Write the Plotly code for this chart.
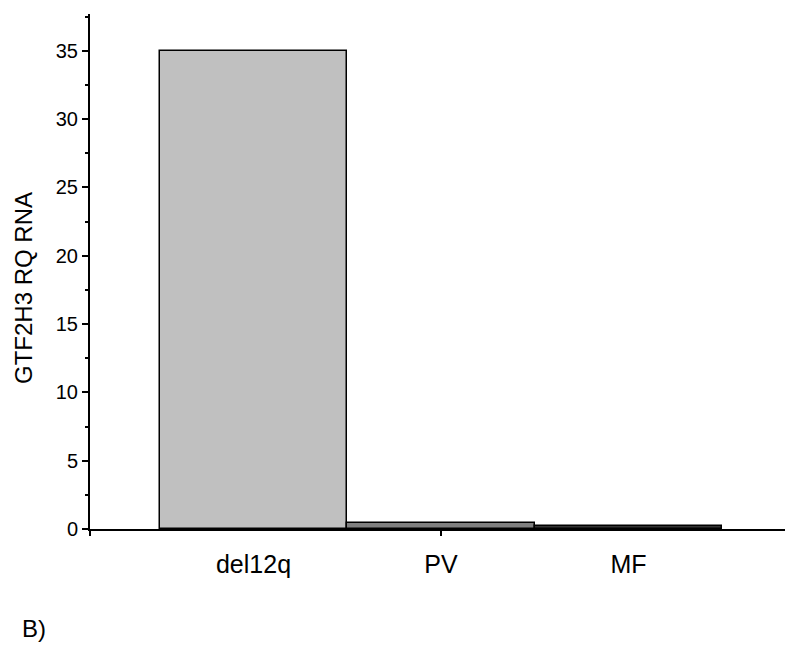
import plotly.graph_objects as go

# Relative quantification of GTF2H3 RNA by group
categories = ["del12q", "PV", "MF"]
rq_values = [35.0, 0.45, 0.25]
bar_colors = ["#c0c0c0", "#808080", "#333333"]
y_tick_values = [0, 5, 10, 15, 20, 25, 30, 35]

x_positions = list(range(len(categories)))
x_range = [-0.872, 2.835]

# plot-area geometry in pixels
W, H = 785, 646
L, R, T, B = 90, 0, 14, 117
PW, PH = W - L - R, H - T - B


def px_to_paper(px, py):
    return (px - L) / PW, (H - B - py) / PH


fig = go.Figure()
fig.add_trace(go.Bar(
    x=x_positions,
    y=rq_values,
    width=1.0,
    marker=dict(color=bar_colors, line=dict(color="#000000", width=1.5)),
    showlegend=False,
))
# invisible trace so the overlay axis (single tick mark) is rendered
fig.add_trace(go.Scatter(x=[x_range[0]], y=[0], xaxis="x2", mode="markers",
                         marker=dict(opacity=0), showlegend=False, hoverinfo="skip"))

title_x, title_y = px_to_paper(23, 288)
panel_x, panel_y = px_to_paper(20, 628)

font_family = "Liberation Sans, Arial, sans-serif"
fig.update_layout(
    width=W, height=H,
    margin=dict(l=L, r=R, t=T, b=B),
    plot_bgcolor="white", paper_bgcolor="white",
    font=dict(family=font_family, size=20, color="#000000"),
    bargap=0,
    xaxis=dict(
        range=x_range,
        tickvals=x_positions,
        ticktext=categories,
        ticks="outside", ticklen=12, tickcolor="rgba(0,0,0,0)",
        showline=True, linecolor="#000000", linewidth=2,
        showgrid=False, zeroline=False,
        tickfont=dict(size=25),
    ),
    xaxis2=dict(
        range=x_range, overlaying="x", anchor="y", side="bottom",
        tickvals=[x_range[0], 1],
        ticks="outside", ticklen=6, tickwidth=2, tickcolor="#000000",
        showticklabels=False, showline=False, showgrid=False, zeroline=False,
    ),
    yaxis=dict(
        range=[0, 37.7],
        tickvals=y_tick_values,
        ticks="outside", ticklen=6, tickwidth=2, tickcolor="#000000",
        minor=dict(dtick=2.5, tick0=0, ticks="outside", ticklen=3, tickwidth=2, tickcolor="#000000"),
        showline=True, linecolor="#000000", linewidth=2,
        showgrid=False, zeroline=False,
        tickfont=dict(size=20),
    ),
    annotations=[
        dict(text="GTF2H3 RQ RNA", xref="paper", yref="paper", x=title_x, y=title_y,
             textangle=-90, showarrow=False, font=dict(size=24),
             xanchor="center", yanchor="middle"),
        dict(text="B)", xref="paper", yref="paper", x=panel_x, y=panel_y,
             showarrow=False, font=dict(size=24), xanchor="left", yanchor="middle"),
    ],
)

fig.write_html("out.html")
